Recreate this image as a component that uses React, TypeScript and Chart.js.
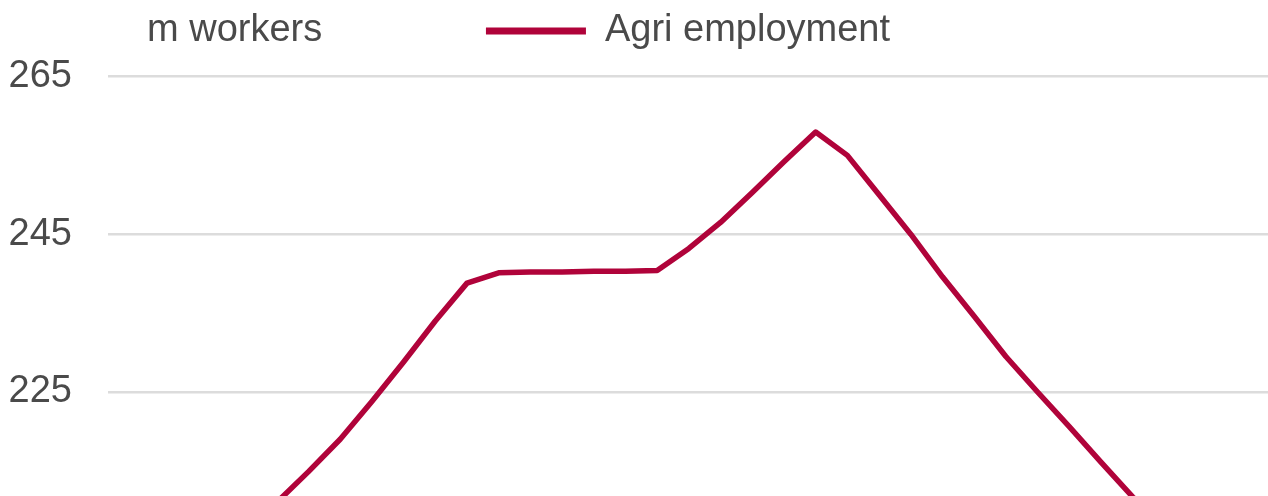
import React, { useEffect, useRef } from "react";
import { Chart, registerables } from "chart.js";

Chart.register(...registerables);

// Years (category positions on the x axis)
const years: number[] = [
  1983, 1984, 1985, 1986, 1987, 1988, 1989, 1990, 1991, 1992, 1993, 1994,
  1995, 1996, 1997, 1998, 1999, 2000, 2001, 2002, 2003, 2004, 2005, 2006,
  2007, 2008, 2009, 2010, 2011, 2012, 2013, 2014, 2015, 2016, 2017, 2018,
];

// Agricultural employment, million workers
const agriEmployment: number[] = [
  203.0, 204.0, 205.0, 206.5, 208.5, 211.0, 214.9, 219.0, 223.8, 228.8, 234.0, 238.8,
  240.1, 240.2, 240.2, 240.3, 240.3, 240.4, 243.2, 246.5, 250.3, 254.2, 257.95, 255.0,
  250.0, 245.0, 239.6, 234.6, 229.5, 225.0, 220.6, 216.1, 211.7, 207.5, 203.5, 200.0,
];

const yTicks: number[] = [225, 245, 265];

const seriesLabel = "Agri employment";
const unitLabel = "m workers";

const FONT = "'Liberation Sans', Arial, Helvetica, sans-serif";
const FONT_SIZE = 38;
const LEGEND_PAD = 12;
const LINE_COLOR = "#b0033a";
const TEXT_COLOR = "#4a4a4a";

const unitPlugin = {
  id: "unitLabel",
  afterDraw(chart: any) {
    const { ctx, chartArea, legend } = chart;
    const y = legend ? legend.top + LEGEND_PAD + FONT_SIZE / 2 : 31;
    ctx.save();
    ctx.font = `${FONT_SIZE}px ${FONT}`;
    ctx.fillStyle = TEXT_COLOR;
    ctx.textAlign = "left";
    ctx.textBaseline = "middle";
    ctx.fillText(unitLabel, chartArea.left + 39, y);
    ctx.restore();
  },
};

export default function App() {
  const canvasRef = useRef<HTMLCanvasElement | null>(null);

  useEffect(() => {
    document.body.style.margin = "0";
    const canvas = canvasRef.current;
    if (!canvas) return;
    const chart = new Chart(canvas, {
      type: "line",
      data: {
        datasets: [
          {
            label: seriesLabel,
            data: years.map((yr, i) => ({ x: yr, y: agriEmployment[i] })),
            borderColor: LINE_COLOR,
            backgroundColor: LINE_COLOR,
            borderWidth: 5.5,
            borderCapStyle: "round",
            borderJoinStyle: "round",
            pointRadius: 0,
            tension: 0,
          },
        ],
      },
      options: {
        animation: false,
        responsive: false,
        layout: { padding: 0 },
        plugins: {
          tooltip: { enabled: false },
          legend: {
            display: true,
            position: "top",
            fullSize: false,
            labels: {
              usePointStyle: true,
              pointStyle: "line",
              pointStyleWidth: 100,
              boxHeight: 6,
              padding: LEGEND_PAD,
              color: TEXT_COLOR,
              font: { family: FONT, size: FONT_SIZE },
              generateLabels: (chart: any) =>
                Chart.defaults.plugins.legend.labels
                  .generateLabels(chart)
                  .map((item: any) => ({ ...item, lineWidth: 7 })),
            },
          },
        },
        scales: {
          x: {
            type: "linear",
            display: false,
            min: years[0] - 0.325,
            max: years[0] + 36.27,
          },
          y: {
            type: "linear",
            min: 211.81,
            max: 267.09,
            border: { display: false },
            grid: { color: "#dcdcdc", lineWidth: 2.5, drawTicks: false },
            ticks: {
              padding: 36,
              color: TEXT_COLOR,
              font: { family: FONT, size: FONT_SIZE },
            },
            afterBuildTicks: (scale: any) => {
              scale.ticks = yTicks.map((v) => ({ value: v }));
            },
            afterFit: (scale: any) => {
              scale.width = 108;
              scale.paddingTop = 0;
              scale.paddingBottom = 0;
            },
          },
        },
      },
      plugins: [unitPlugin],
    });
    return () => chart.destroy();
  }, []);

  return (
    <div style={{ width: 1268, height: 496, background: "#fff" }}>
      <canvas ref={canvasRef} width={1268} height={496} />
    </div>
  );
}
